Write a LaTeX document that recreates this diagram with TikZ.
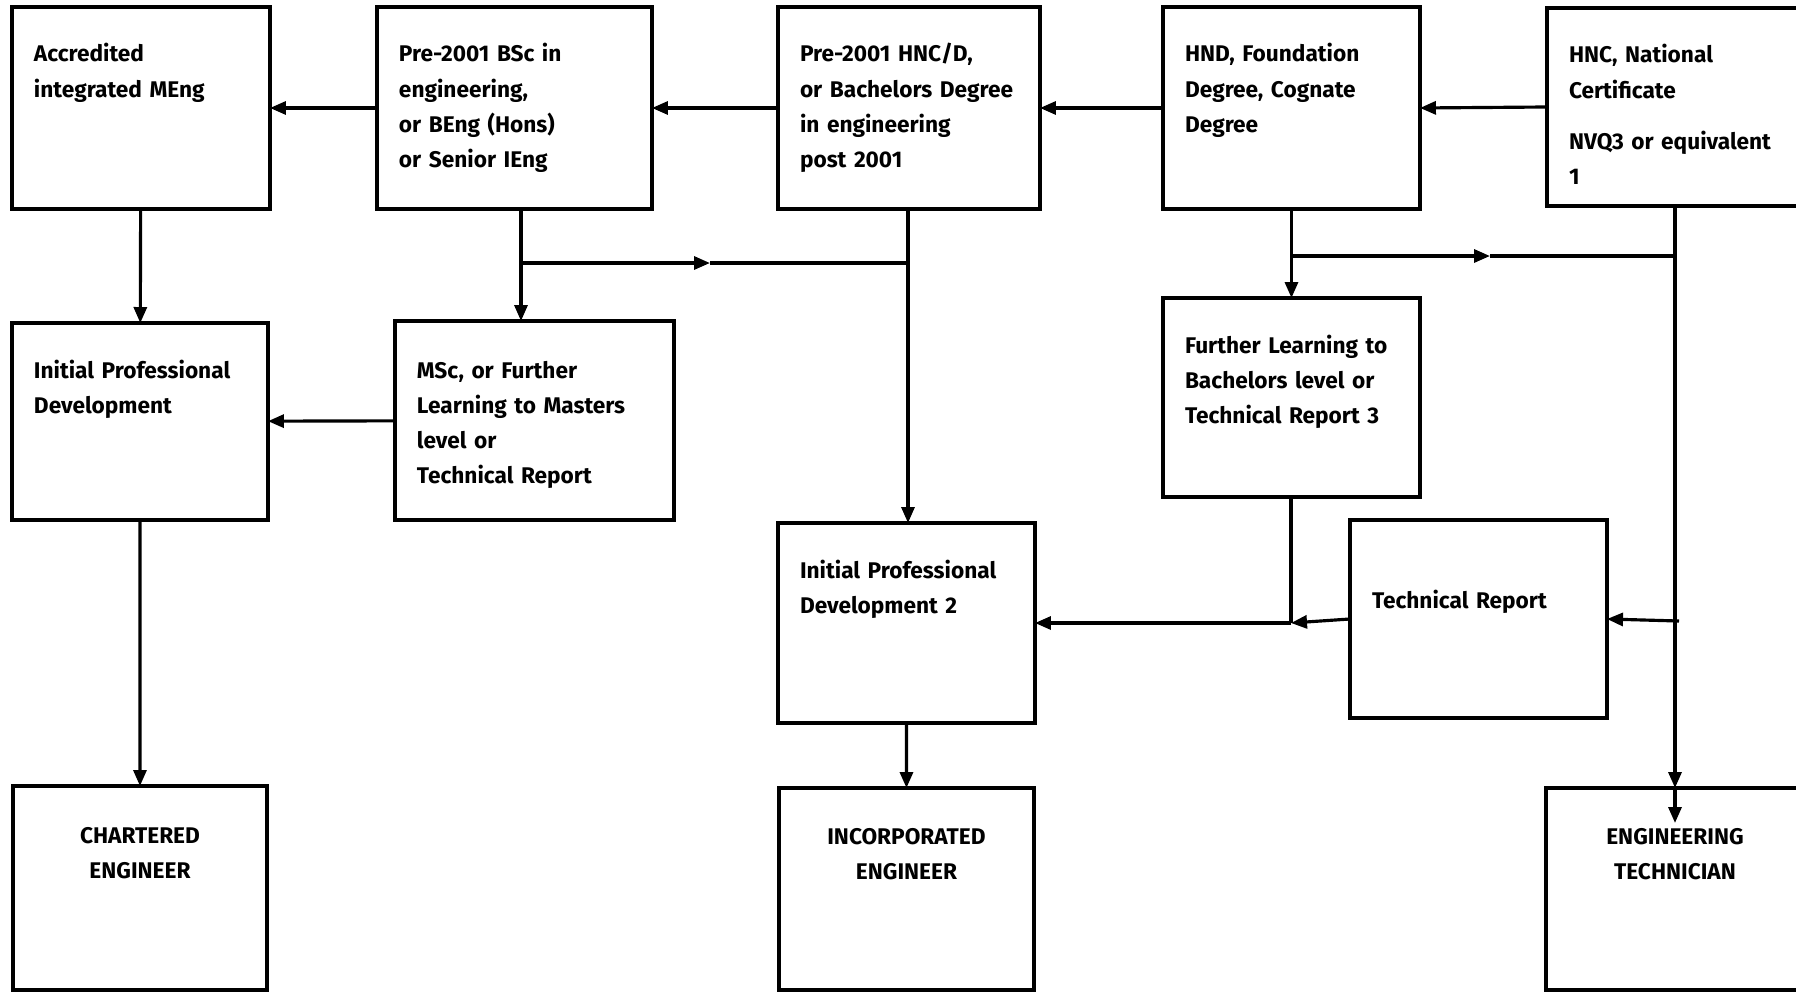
\documentclass[tikz,border=0pt]{standalone}
\usepackage{fontspec}
\setmainfont{Fira Sans}
\usetikzlibrary{arrows.meta}
\tikzset{
  stage/.style = {draw, line width=1.8pt, anchor=north west, outer sep=0pt,
                  inner xsep=0.44cm, inner ysep=0pt, align=left,
                  text height=1.1cm, font=\bfseries\fontsize{12.9}{20}\selectfont},
  arr/.style = {line width=1.8pt, -{Triangle[length=0.32cm,width=0.26cm]}},
  wire/.style = {line width=1.8pt}
}

\begin{document}
\begin{tikzpicture}[x=0.02cm, y=-0.02cm]
	\path[use as bounding box, fill=white] (0,0) rectangle (1796,992);

	% Entry qualifications
	\node[stage, text width=4.28cm, text depth=2.94cm] (meng) at (12,7) {Accredited\\integrated MEng};
	\node[stage, text width=4.62cm, text depth=2.94cm] (bsc) at (377,7) {Pre-2001 BSc in\\engineering,\\or BEng (Hons)\\or Senior IEng};
	\node[stage, text width=4.36cm, text depth=2.94cm] (hncd) at (778,7) {Pre-2001 HNC/D,\\or Bachelors Degree\\in engineering\\post 2001};
	\node[stage, text width=4.26cm, text depth=2.94cm] (hnd) at (1163,7) {HND, Foundation\\Degree, Cognate\\Degree};
	\node[stage, text width=4.28cm, text depth=2.86cm] (hnc) at (1547,8) {HNC, National\\Certificate\\[0.33cm]NVQ3 or equivalent\\1};

	% Further learning
	\node[stage, text width=4.24cm, text depth=2.84cm] (ipd) at (12,323) {Initial Professional\\Development};
	\node[stage, text width=4.70cm, text height=1.14cm, text depth=2.84cm] (msc) at (395,321) {MSc, or Further\\Learning to Masters\\level or\\Technical Report};
	\node[stage, text width=4.26cm, text depth=2.88cm] (further) at (1163,298) {Further Learning to\\Bachelors level or\\Technical Report 3};
	\node[stage, text width=4.26cm, text depth=2.90cm] (ipdii) at (778,523) {Initial Professional\\Development 2};
	\node[stage, text width=4.26cm, text height=1.78cm, text depth=2.18cm] (report) at (1350,520) {Technical Report};

	% Registration
	\node[stage, align=center, text width=4.20cm, text height=1.14cm, text depth=2.94cm] (chartered) at (13,786) {CHARTERED\\ENGINEER};
	\node[stage, align=center, text width=4.22cm, text height=1.12cm, text depth=2.92cm] (incorp) at (779,788) {INCORPORATED\\ENGINEER};
	\node[stage, align=center, text width=4.28cm, text height=1.12cm, text depth=2.92cm] (technician) at (1546,788) {ENGINEERING\\TECHNICIAN};

	% Junctions
	\coordinate (jb) at (521,263);
	\coordinate (mb) at (710,263);
	\coordinate (jh) at (908,263);
	\coordinate (jd) at (1291,256);
	\coordinate (md) at (1490,256);
	\coordinate (jt) at (1675,256);
	\coordinate (jf) at (1291,623);
	\coordinate (rin) at (1679,621);
	\coordinate (tin) at (1675,823);

	% Top row
	\draw[arr] (bsc) -- (meng);
	\draw[arr] (hncd) -- (bsc);
	\draw[arr] (hnd) -- (hncd);
	\draw[arr] (hnc.west) -- (hnd.east);

	% Chartered route
	\draw[arr] (meng) -- (ipd);
	\draw[arr] (msc) -- (ipd);
	\draw[arr] (ipd) -- (chartered);
	\draw[wire] (bsc.south -| jb) -- (jb);
	\draw[arr] (jb) -- (msc.north -| jb);

	% Incorporated route
	\draw[arr] (jb) -- (mb);
	\draw[wire] (mb) -- (jh);
	\draw[arr] (hncd.south -| jh) -- (ipdii.north -| jh);
	\draw[arr] (ipdii) -- (incorp);
	\draw[arr] (hnd) -- (further);
	\draw[wire] (further.south -| jf) -- (jf);
	\draw[arr] (jf) -- (ipdii.east |- jf);
	\draw[arr] (report.west) -- (jf);

	% Technician route
	\draw[arr] (jd) -- (md);
	\draw[wire] (md) -- (jt);
	\draw[arr] (hnc.south -| jt) -- (technician.north -| jt);
	\draw[arr] (technician.north -| jt) -- (tin);
	\draw[arr] (rin) -- (report.east);
\end{tikzpicture}
\end{document}
